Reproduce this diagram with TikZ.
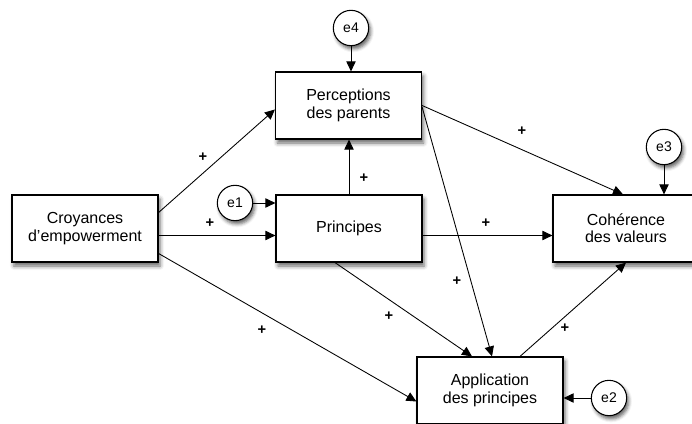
\documentclass[tikz,border=0pt]{standalone}
\usepackage{fontspec}
\setmainfont{Liberation Sans}
\usetikzlibrary{arrows.meta,calc,shadows.blur}

\begin{document}
\begin{tikzpicture}[>={Triangle[length=7.5pt,width=7pt]},x=0.75pt,y=-0.75pt,
  var/.style={draw,line width=0.9pt,fill=white,minimum width=109.5pt,minimum height=50.25pt,
    align=center,font=\fontsize{12}{13}\selectfont,
    blur shadow={shadow xshift=1.5pt,shadow yshift=-3pt,shadow blur radius=3pt,shadow opacity=60}},
  err/.style={draw,circle,line width=0.8pt,fill=white,minimum size=26.5pt,inner sep=0pt,
    font=\fontsize{10.5}{12}\selectfont,
    blur shadow={shadow xshift=1.5pt,shadow yshift=-2.5pt,shadow blur radius=2.5pt,shadow opacity=60}},
  link/.style={->,line width=0.65pt},
  plus/.style={font=\bfseries\fontsize{11}{11}\selectfont,inner sep=0pt}]
\useasboundingbox (0,0) rectangle (692,424);
% variables
\node[var] (croy) at (85,228.5) {Croyances\\d’empowerment};
\node[var] (perc) at (348.5,105.5) {Perceptions\\des parents};
\node[var] (prin) at (349,228.5) {Principes};
\node[var] (cohe) at (626,228.5) {Cohérence\\des valeurs};
\node[var] (appl) at (490,390.5) {Application\\des principes};
% erreurs
\node[err] (e4) at (351,28) {e4};
\node[err] (e1) at (235,203) {e1};
\node[err] (e3) at (664,147) {e3};
\node[err] (e2) at (609,398) {e2};
\draw[link] (e4) -- (e4 |- perc.north);
\draw[link] (e1.east) -- (e1 -| prin.west);
\draw[link] (e3) -- (e3 |- cohe.north);
\draw[link] (e2) -- (e2 -| appl.east);
% chemins
\draw[link] ($(croy.east)+(0,-16)$) -- ($(perc.west)+(0,4)$);
\draw[link] ($(croy.east)+(0,7)$) -- ($(prin.west)+(0,7)$);
\draw[link] ($(croy.east)+(0,25)$) -- ($(appl.west)+(0,11)$);
\draw[link] (prin.north) -- (prin.north |- perc.south);
\draw[link] ($(prin.east)+(0,7)$) -- ($(cohe.west)+(0,7)$);
\draw[link] ($(prin.south)+(-14,0)$) -- ($(appl.north)+(-18,0)$);
\draw[link] ($(perc.east)+(0,1.5)$) -- ($(appl.north)+(2,0)$);
\draw[link] (perc.east) -- ($(cohe.north)+(-3,0)$);
\draw[link] ($(appl.north)+(30,0)$) -- (cohe.south);
% signes
\node[plus] (p1) at (203,157) {+};
\node[plus] (p2) at (210,223) {+};
\node[plus] (p3) at (262,330) {+};
\node[plus] (p4) at (364,178) {+};
\node[plus] (p5) at (486,223) {+};
\node[plus] (p6) at (389,316) {+};
\node[plus] (p7) at (457,281) {+};
\node[plus] (p8) at (522,131) {+};
\node[plus] (p9) at (565,328) {+};
\end{tikzpicture}
\end{document}
